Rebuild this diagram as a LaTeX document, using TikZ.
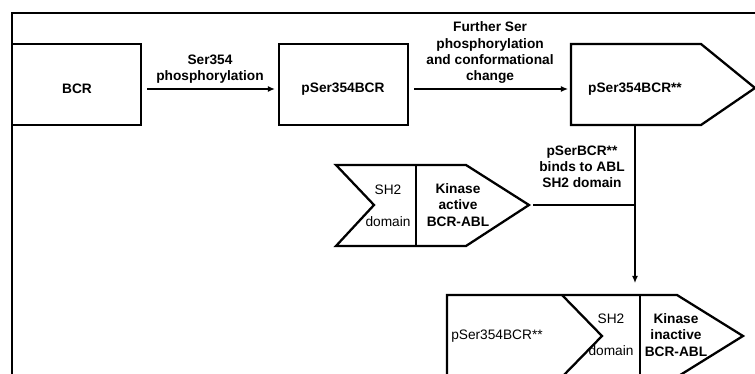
\documentclass[tikz,border=0pt]{standalone}
\usepackage{fontspec}
\setmainfont{Liberation Sans}
\usetikzlibrary{arrows.meta,positioning,calc}

\begin{document}
\begin{tikzpicture}[x=0.02cm, y=-0.02cm,
    frame/.style={line width=1.4pt},
    outline/.style={draw, line width=1.3pt, line join=miter},
    box/.style={outline, rectangle, minimum width=2.58cm, minimum height=1.62cm, inner sep=0pt},
    lbl/.style={font=\bfseries\fontsize{7.8}{9.2}\selectfont, align=center, inner sep=0pt},
    plain/.style={font=\fontsize{7.8}{9.2}\selectfont, align=center, inner sep=0pt},
    arrow/.style={-{Latex[length=4pt,width=3.4pt]}, line width=0.7pt},
    link/.style={line width=0.7pt}
]
    \useasboundingbox (0,0) rectangle (755,374);
    \clip (0,0) rectangle (755,374);

    % Frame
    \draw[frame] (12,390) -- (12,13) -- (770,13);

    % Top row
    \node[box] (bcrbox) at (76.5,84.5) {};
    \node[lbl] (bcr) at (77,89) {BCR};
    \node[box] (pserbox) at (343.5,84.5) {};
    \node[lbl] (pser) at (343,89) {pSer354BCR};

    \draw[outline] (571,44) -- (701,44) -- (755,88) -- (701,125) -- (571,125) -- cycle;
    \coordinate (pstarw) at (571,89);
    \coordinate (pstarbot) at (635,125);
    \node[lbl] (pstar) at (635,89) {pSer354BCR**};

    \draw[arrow, shorten <=0.1cm, shorten >=0.06cm] (bcrbox.east |- bcr) --
        node[lbl, above=0.1cm] (lblphos) {Ser354\\phosphorylation} (pserbox.west |- bcr);
    \draw[arrow, shorten <=0.1cm, shorten >=0.06cm] (pserbox.east |- pser) --
        node[lbl, above=0.1cm] (lblconf) {Further Ser\\phosphorylation\\and conformational\\change} (pstarw);

    % Kinase active BCR-ABL
    \draw[outline] (336,165) -- (466,165) -- (529,205) coordinate (activetip) -- (466,246) -- (336,246) -- (374,205) -- cycle;
    \draw[outline] (416,165) -- (416,246);
    \node[plain] (sh2a) at (388,206) {SH2\\[9pt]domain};
    \node[lbl] (active) at (458,205) {Kinase\\active\\BCR-ABL};

    % Binding
    \coordinate (join) at (pstarbot |- activetip);
    \coordinate (cplxtop) at (635,295);
    \draw[link, shorten <=0.08cm] (activetip) -- (join);
    \draw[arrow, shorten >=0.24cm] (pstarbot) -- (cplxtop);
    \node[lbl] (lblbind) at (582,167) {pSerBCR**\\binds to ABL\\SH2 domain};

    % Complex
    \draw[outline] (447,295) -- (677,295) -- (743,336) -- (677,377) -- (447,377) -- cycle;
    \draw[outline] (562,295) -- (602,336) -- (562,377);
    \draw[outline] (640,295) -- (640,377);
    \node[plain] (pcplx) at (497,336) {pSer354BCR**};
    \node[plain] (sh2b) at (611,335) {SH2\\[9pt]domain};
    \node[lbl] (inactive) at (676,335) {Kinase\\inactive\\BCR-ABL};
\end{tikzpicture}
\end{document}
